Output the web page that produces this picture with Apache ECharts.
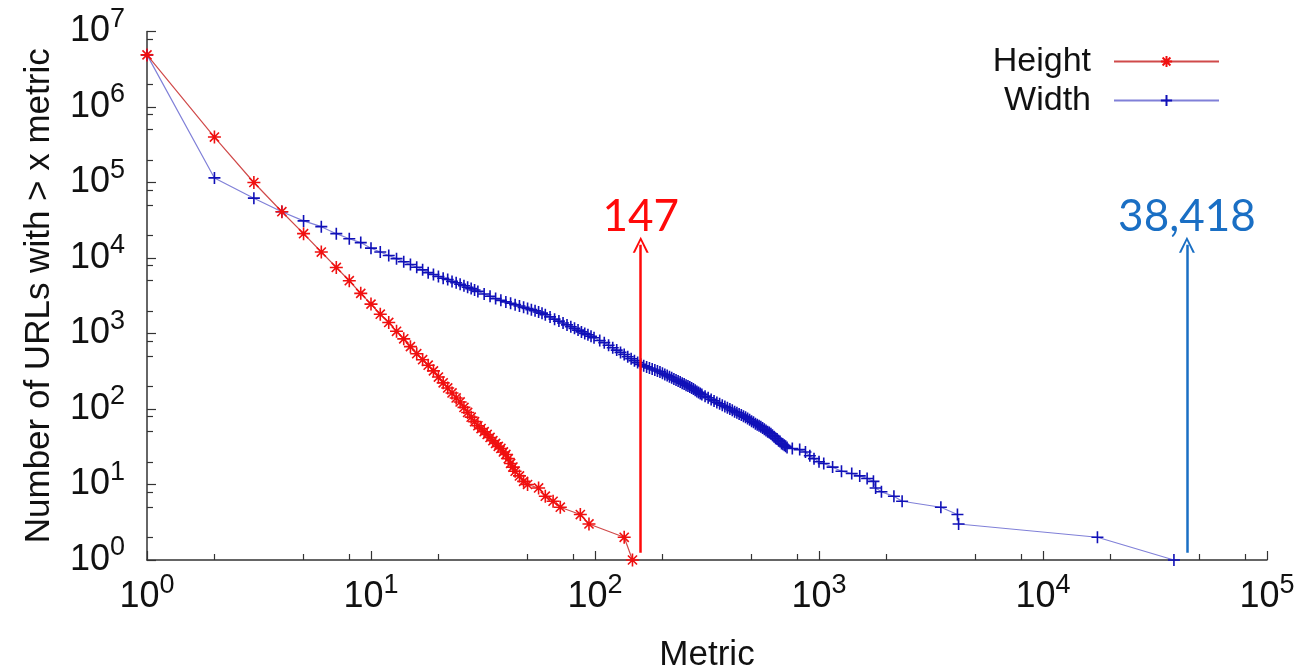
<!DOCTYPE html>
<html>
<head>
<meta charset="utf-8">
<script src="https://cdn.jsdelivr.net/npm/echarts@6/dist/echarts.min.js"></script>
<style>
  html, body { margin: 0; padding: 0; background: #fff; }
  #main { width: 1309px; height: 670px; }
</style>
</head>
<body>
<div id="main"></div>
<script>
// Height: number of URLs with > x metric
var heightX = [1, 2, 3, 4, 5, 6, 7, 8, 9, 10, 11, 12, 13, 14, 15, 16, 17, 18, 19, 20,
  21, 22, 23, 24, 25, 26, 27, 28, 29, 30, 31, 32, 33, 34, 35, 36, 37, 38, 39, 40,
  41, 42, 43, 44, 46, 48, 50, 56, 60, 65, 70, 86, 94, 135, 147]
var heightY = [4900000, 400000, 100000, 41000, 21000, 12000, 7500, 5000, 3400, 2450, 1800, 1400, 1070, 850, 670, 540, 450, 380, 320, 265,
  222, 190, 163, 140, 124, 105, 90, 78, 68, 60, 55, 50, 46, 42, 38, 35, 32, 30, 27, 25,
  22, 19, 17, 15, 13, 11, 10, 9, 7, 6, 5, 4, 3, 2, 1]

// Width
var widthX = [1, 2, 3, 4, 5, 6, 7, 8, 9, 10, 11, 12, 13, 14, 15, 16, 17, 18, 19, 20,
  21, 22, 23, 24, 25, 26, 27, 28, 29, 30, 32, 34, 36, 38, 40, 42, 44, 46, 48, 50,
  52, 54, 56, 58, 60, 63, 66, 69, 72, 75, 78, 81, 84, 87, 90, 93, 96, 99, 105, 110,
  115, 120, 125, 130, 135, 140, 145, 150, 155, 160, 165, 170, 175, 180, 185, 190, 195, 200, 205, 210,
  215, 220, 225, 230, 235, 240, 245, 250, 255, 260, 265, 270, 275, 280, 285, 290, 295, 300, 310, 320,
  330, 340, 350, 360, 370, 380, 390, 400, 410, 420, 430, 440, 450, 460, 470, 480, 490, 500, 510, 520,
  530, 540, 550, 560, 570, 580, 590, 600, 610, 620, 630, 640, 650, 660, 670, 680, 690, 700, 710, 720,
  760, 820, 870, 910, 950, 1000, 1050, 1150, 1260, 1400, 1520, 1640, 1750, 1790, 1900, 2160, 2350, 3500, 4150, 4200,
  17500, 38418]
var widthY = [4900000, 115000, 62000, 41000, 31000, 26000, 21000, 18000, 16000, 13500, 12000, 10800, 9800, 8900, 8200, 7550, 6970, 6400, 6050, 5700,
  5400, 5200, 4900, 4700, 4500, 4290, 4100, 3930, 3760, 3610, 3340, 3110, 2900, 2750, 2620, 2510, 2410, 2310, 2220, 2140,
  2070, 2000, 1930, 1860, 1770, 1660, 1550, 1460, 1380, 1300, 1230, 1170, 1110, 1050, 1000, 962, 919, 879, 809, 757,
  698, 649, 603, 562, 526, 493, 464, 437, 412, 390, 373, 361, 349, 338, 328, 318, 310, 298, 287, 277,
  268, 259, 250, 242, 234, 228, 220, 214, 207, 202, 196, 190, 184, 177, 171, 166, 161, 156, 148, 141,
  134, 128, 122, 117, 112, 108, 104, 100, 96, 92, 89, 86, 83, 80, 78, 75, 72, 69, 67, 64,
  62, 60, 58, 56, 54, 52, 50, 49, 47, 45, 43, 41, 40, 38, 37, 35, 34, 33, 32, 31,
  30, 29, 27, 24, 22, 20, 19, 17, 15, 14, 13, 12, 11, 9, 8, 7, 6, 5, 4, 3,
  2, 1]

// minor tick positions (gnuplot style 2, 5, 8 per decade)
var xMinorTicks = [2, 5, 8, 20, 50, 80, 200, 500, 800, 2000, 5000, 8000, 20000, 50000, 80000]
var yMinorTicks = [2, 5, 8, 20, 50, 80, 200, 500, 800, 2000, 5000, 8000, 20000, 50000, 80000,
  200000, 500000, 800000, 2000000, 5000000, 8000000]

// annotation arrows: [x, yFrom, yTo] and label
var heightMark = [160, 1.25, 15000]
var widthMark = [43900, 1.25, 15000]
var heightLabel = '147'
var widthLabel = '38,418'

var FONT = 'Liberation Sans'
var plusPath = 'path://M0,5L10,5M5,0L5,10'
var starPath = 'path://M0,5L10,5M5,0L5,10M1.5,1.5L8.5,8.5M1.5,8.5L8.5,1.5'
var chevron = 'path://M0,10L5,0L10,10L8.6,10L5,2.6L1.4,10Z'

function zip (xs, ys) {
  return xs.map(function (x, i) { return [x, ys[i]] })
}
function log10s (arr) {
  return arr.map(function (v) { return Math.log10(v) })
}

var powLabel = {
  fontFamily: FONT,
  color: '#111',
  formatter: function (v) {
    return '{b|10}{s|' + Math.round(Math.log10(v)) + '}'
  },
  rich: {
    b: { fontSize: 36, fontFamily: FONT, color: '#111' },
    s: { fontSize: 27, fontFamily: FONT, color: '#111', padding: [0, 0, 24, 0] }
  }
}

// decoration-only axis carrying the minor ticks (in decades)
function minorAxis (pos, max, ticks) {
  return {
    type: 'value',
    position: pos,
    min: 0,
    max: max,
    axisLine: { show: false },
    axisLabel: { show: false },
    splitLine: { show: false },
    axisTick: { show: true, inside: true, length: 6, customValues: log10s(ticks), lineStyle: { color: '#333', width: 1.2 } }
  }
}

var myChart = echarts.init(document.getElementById('main'), null, { renderer: 'canvas' })

var option = {
  animation: false,
  backgroundColor: '#fff',
  grid: { left: 147, right: 42, top: 31.5, bottom: 110, containLabel: false, outerBoundsMode: 'none' },
  legend: {
    data: ['Height', 'Width'],
    orient: 'vertical',
    right: 84,
    top: 38,
    align: 'right',
    itemWidth: 105,
    itemHeight: 14,
    itemGap: 2,
    textStyle: { fontFamily: FONT, fontSize: 34, color: '#111', lineHeight: 37, padding: [0, 18, 0, 0] }
  },
  xAxis: [
    {
      type: 'log',
      logBase: 10,
      min: 1,
      max: 100000,
      name: 'Metric',
      nameLocation: 'middle',
      nameGap: 78,
      nameTextStyle: { fontFamily: FONT, fontSize: 35, color: '#111' },
      axisLine: { lineStyle: { color: '#333', width: 1.5 } },
      axisTick: { inside: true, length: 9, lineStyle: { color: '#333', width: 1.2 } },
      axisLabel: Object.assign({ margin: 12 }, powLabel),
      splitLine: { show: false }
    },
    minorAxis('bottom', 5, xMinorTicks)
  ],
  yAxis: [
    {
      type: 'log',
      logBase: 10,
      min: 1,
      max: 10000000,
      name: 'Number of URLs with > x metric',
      nameLocation: 'middle',
      nameGap: 90,
      nameTextStyle: { fontFamily: FONT, fontSize: 35, color: '#111' },
      axisLine: { show: true, lineStyle: { color: '#333', width: 1.5 } },
      axisTick: { show: true, inside: true, length: 9, lineStyle: { color: '#333', width: 1.2 } },
      axisLabel: Object.assign({ margin: 22 }, powLabel),
      splitLine: { show: false }
    },
    minorAxis('left', 7, yMinorTicks)
  ],
  series: [
    {
      name: 'Height',
      type: 'line',
      data: zip(heightX, heightY),
      symbol: starPath,
      symbolSize: 13,
      showAllSymbol: true,
      z: 3,
      lineStyle: { color: '#d04a4a', width: 1.2 },
      itemStyle: { color: 'rgba(0,0,0,0)', borderColor: '#f01010', borderWidth: 1.6 },
      markLine: {
        silent: true,
        symbol: ['none', chevron],
        symbolSize: 16,
        lineStyle: { color: '#ff0a0a', width: 2.5, type: 'solid' },
        label: {
          show: true,
          position: 'end',
          distance: 6,
          formatter: heightLabel,
          fontFamily: 'Lato',
          fontSize: 44,
          color: '#ff0a0a'
        },
        data: [[{ coord: [heightMark[0], heightMark[1]] }, { coord: [heightMark[0], heightMark[2]] }]]
      }
    },
    {
      name: 'Width',
      type: 'line',
      data: zip(widthX, widthY),
      symbol: plusPath,
      symbolSize: 12,
      showAllSymbol: true,
      z: 2,
      lineStyle: { color: '#8080d8', width: 1.2 },
      itemStyle: { color: 'rgba(0,0,0,0)', borderColor: '#1010b8', borderWidth: 1.6 },
      markLine: {
        silent: true,
        symbol: ['none', chevron],
        symbolSize: 16,
        lineStyle: { color: '#1a6fc4', width: 2.5, type: 'solid' },
        label: {
          show: true,
          position: 'end',
          distance: 6,
          formatter: widthLabel,
          fontFamily: 'Lato',
          fontSize: 44,
          color: '#1a6fc4'
        },
        data: [[{ coord: [widthMark[0], widthMark[1]] }, { coord: [widthMark[0], widthMark[2]] }]]
      }
    }
  ]
}
myChart.setOption(option)
</script>
</body>
</html>
